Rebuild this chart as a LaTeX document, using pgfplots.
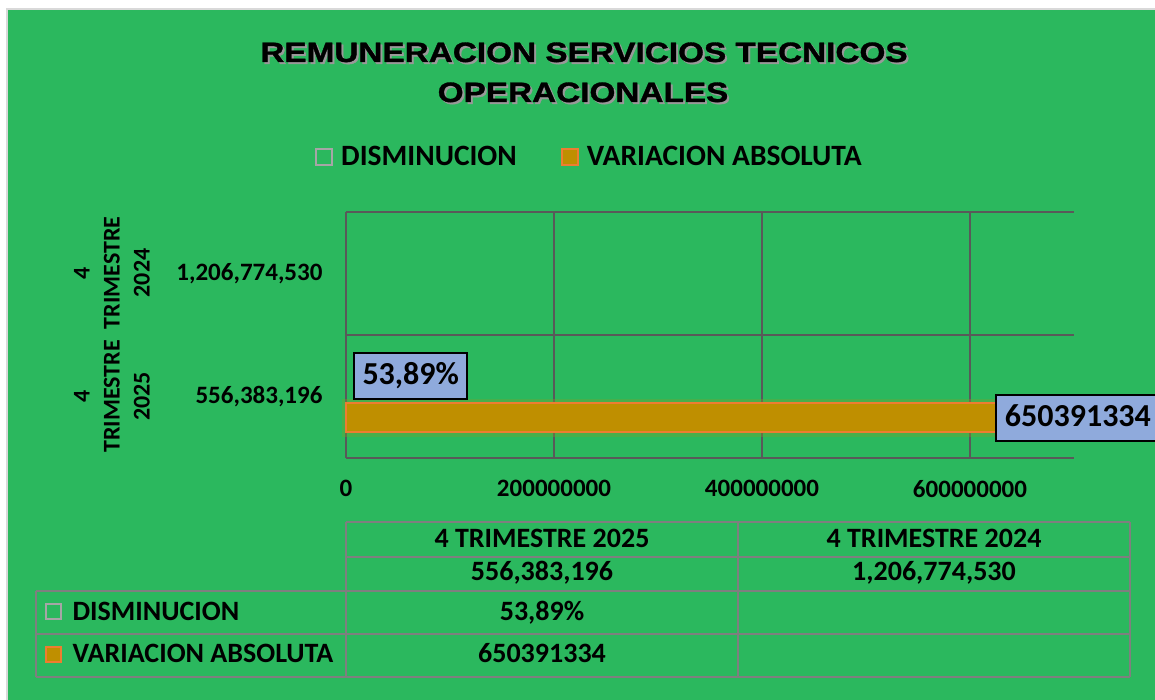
\documentclass[border=0pt]{standalone}
\usepackage{pgfplots}
\pgfplotsset{compat=1.18}
\usepackage{fontspec}
\setmainfont{Carlito}
\newfontfamily\titlefont[FakeStretch=1.19, FakeBold=1.2]{Liberation Sans}
\definecolor{bg}{HTML}{2BB85E}
\definecolor{gridc}{HTML}{595959}
\definecolor{tablec}{HTML}{7F7F7F}
\definecolor{barfill}{HTML}{BF8F00}
\definecolor{barline}{HTML}{ED7D31}
\definecolor{lblfill}{HTML}{8FAADC}
\definecolor{keygrey}{HTML}{A6A6A6}

\begin{document}
\begin{tikzpicture}[x=1pt,y=1pt]
\useasboundingbox (0,0) rectangle (1155,700);
\clip (0,0) rectangle (1155,700);
\fill[white] (0,0) rectangle (1155,700);
\filldraw[fill=bg, draw=gray!30, line width=1.5pt] (7,-10) rectangle (1170,691);

% title with shadow
\begin{scope}[every node/.style={anchor=base, font=\titlefont\bfseries\fontsize{28}{34}\selectfont}]
\node[text=black!40] at (586,636) {REMUNERACION SERVICIOS TECNICOS};
\node[text=black] at (584,638) {REMUNERACION SERVICIOS TECNICOS};
\node[text=black!40] at (585,596) {OPERACIONALES};
\node[text=black] at (583,598) {OPERACIONALES};
\end{scope}

\begin{axis}[
  at={(346pt,242pt)}, anchor=south west,
  scale only axis, width=728pt, height=246pt,
  xmin=0, xmax=700000000, ymin=-0.5, ymax=1.5,
  axis line style={draw=none},
  tick style={draw=none},
  xtick={0,200000000,400000000,600000000},
  xticklabels={0,200000000,400000000,600000000},
  scaled x ticks=false,
  ytick={0,1},
  yticklabels={{556,383,196},{1,206,774,530}},
  minor ytick={-0.5,0.5,1.5},
  xmajorgrids, yminorgrids,
  major grid style={gridc, line width=2.3pt},
  minor grid style={gridc, line width=2.3pt},
  ticklabel style={font=\bfseries\fontsize{25}{30}\selectfont},
  xticklabel style={yshift=-19pt},
  yticklabel style={xshift=-20pt},
  clip=false,
  legend style={at={(0.333,1.2236)}, anchor=center, draw=none, fill=none,
    legend columns=2, font=\bfseries\fontsize{29.5}{34}\selectfont,
    /tikz/every odd column/.append style={column sep=8pt},
    /tikz/every even column/.append style={column sep=44pt},
    nodes={inner sep=0pt}},
  legend image code/.code={\draw[#1] (0pt,-8pt) rectangle (16pt,8pt);},
  nodes near coords, point meta=explicit symbolic,
  every node near coord/.append style={anchor=west, draw=black, line width=2pt,
    fill=lblfill, text=black, font=\bfseries\fontsize{32}{38}\selectfont,
    inner xsep=8.5pt, inner ysep=10pt, text height=22pt, text depth=4pt},
]
\addlegendimage{keygrey, fill=none, line width=2pt}
\addlegendentry{DISMINUCION}
\addlegendimage{barline, fill=barfill, line width=2pt}
\addlegendentry{VARIACION ABSOLUTA}
% DISMINUCION (invisible bar, label only)
\addplot[forget plot, xbar, bar width=0.236, bar shift=0.1667, draw=none, fill=none,
  every node near coord/.append style={xshift=7pt, yshift=20.5pt}]
  coordinates {(0.5389,0) [53,89\%]};
% VARIACION ABSOLUTA
\addplot[forget plot, xbar, bar width=0.236, bar shift=-0.171, draw=barline,
  fill=barfill, line width=1.5pt,
  preaction={draw=barfill!55!bg, line width=9pt, opacity=0.35},
  every node near coord/.append style={xshift=-27pt, yshift=-21.5pt}]
  coordinates {(650391334,0) [650391334]};
\end{axis}

% rotated category names
\begin{scope}[every node/.style={rotate=90, align=center, font=\bfseries\fontsize{24}{30}\selectfont}]
\node at (112,303.5) {4\\TRIMESTRE\\2025};
\node at (112,427) {4\\TRIMESTRE\\2024};
\end{scope}

% data table
\draw[tablec, line width=2.3pt]
  (346,178) -- (1130,178)
  (346,143) -- (1130,143)
  (36,109) -- (1130,109)
  (36,66) -- (1130,66)
  (36,23) -- (1130,23)
  (346,178) -- (346,23) (738,178) -- (738,23) (1130,178) -- (1130,23)
  (36,109) -- (36,23);
\begin{scope}[every node/.style={anchor=base, font=\bfseries\fontsize{28}{34}\selectfont}]
\node at (542,152) {4 TRIMESTRE 2025};
\node at (934,152) {4 TRIMESTRE 2024};
\node at (542,119) {556,383,196};
\node at (934,119) {1,206,774,530};
\node at (542,79) {53,89\%};
\node at (542,37) {650391334};
\node[anchor=base west] at (69,79) {DISMINUCION};
\node[anchor=base west] at (69,37) {VARIACION ABSOLUTA};
\end{scope}
\draw[keygrey, line width=2pt] (46,81) rectangle (61,96);
\filldraw[fill=barfill, draw=barline, line width=2pt] (46,38) rectangle (61,53);
\end{tikzpicture}
\end{document}
